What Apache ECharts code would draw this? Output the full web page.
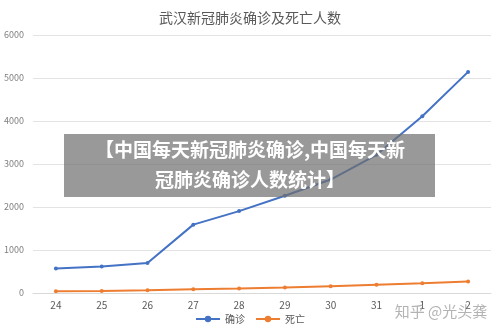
<!DOCTYPE html>
<html>
<head>
<meta charset="utf-8">
<script src="https://cdn.jsdelivr.net/npm/echarts@6/dist/echarts.min.js"></script>
<style>html,body{margin:0;padding:0;background:#fff;}</style>
</head>
<body>
<div id="main" style="width: 500px;height: 332px"></div>

<script type="text/javascript">
    // 数据
    var days = ['24', '25', '26', '27', '28', '29', '30', '31', '1', '2'];
    var confirmed = [572, 618, 698, 1590, 1905, 2261, 2639, 3215, 4109, 5142];
    var deaths = [38, 45, 63, 85, 104, 129, 159, 192, 224, 265];
    var yTicks = [0, 1000, 2000, 3000, 4000, 5000, 6000];

    var font = '"Noto Sans CJK SC", "Noto Sans", sans-serif';
    var myChart = echarts.init(document.getElementById('main'));

    var option = {
        backgroundColor: '#fff',
        animation: false,
        textStyle: { fontFamily: font },
        title: {
            text: '武汉新冠肺炎确诊及死亡人数',
            left: 'center',
            top: 6,
            textStyle: { fontSize: 14, fontWeight: 'normal', color: '#595959', fontFamily: font }
        },
        legend: {
            data: ['确诊', '死亡'],
            bottom: 3,
            left: 'center',
            itemWidth: 24,
            itemHeight: 8,
            itemGap: 10,
            textStyle: { fontSize: 10, color: '#595959', fontFamily: font }
        },
        grid: { left: 33, right: 9, top: 35, bottom: 39 },
        xAxis: {
            type: 'category',
            data: days,
            axisLine: { lineStyle: { color: '#d9d9d9' } },
            axisTick: { show: false },
            axisLabel: { color: '#595959', fontSize: 10, margin: 7 }
        },
        yAxis: {
            type: 'value',
            min: yTicks[0],
            max: yTicks[yTicks.length - 1],
            interval: 1000,
            axisLine: { show: false },
            axisTick: { show: false },
            axisLabel: {
                color: '#7f7f7f', fontSize: 9, margin: 9,
                formatter: function (v) { return String(v); }
            },
            splitLine: { lineStyle: { color: '#e3e3e3' } }
        },
        graphic: [
            {
                type: 'rect',
                shape: { x: 64, y: 134, width: 371, height: 63 },
                style: { fill: 'rgba(110,110,110,0.7)' },
                z: 100
            },
            {
                type: 'text',
                x: 250, y: 150,
                style: {
                    text: '【中国每天新冠肺炎确诊,中国每天新',
                    fill: '#fff', font: 'bold 19px ' + font,
                    textAlign: 'center', textVerticalAlign: 'middle'
                },
                z: 101
            },
            {
                type: 'text',
                x: 250, y: 180,
                style: {
                    text: '冠肺炎确诊人数统计】',
                    fill: '#fff', font: 'bold 19px ' + font,
                    textAlign: 'center', textVerticalAlign: 'middle'
                },
                z: 101
            },
            {
                type: 'text',
                x: 441, y: 311,
                style: {
                    text: '知乎 @光头龚',
                    fill: 'rgba(160,160,160,0.8)', font: '15px ' + font,
                    textAlign: 'center', textVerticalAlign: 'middle'
                },
                z: 101
            }
        ],
        series: [
            {
                name: '确诊',
                type: 'line',
                data: confirmed,
                symbol: 'circle',
                symbolSize: 4,
                itemStyle: { color: '#4472C4' },
                lineStyle: { width: 2, color: '#4472C4' }
            },
            {
                name: '死亡',
                type: 'line',
                data: deaths,
                symbol: 'circle',
                symbolSize: 4,
                itemStyle: { color: '#ED7D31' },
                lineStyle: { width: 2, color: '#ED7D31' }
            }
        ]
    };

    myChart.setOption(option);
</script>
</body>
</html>
